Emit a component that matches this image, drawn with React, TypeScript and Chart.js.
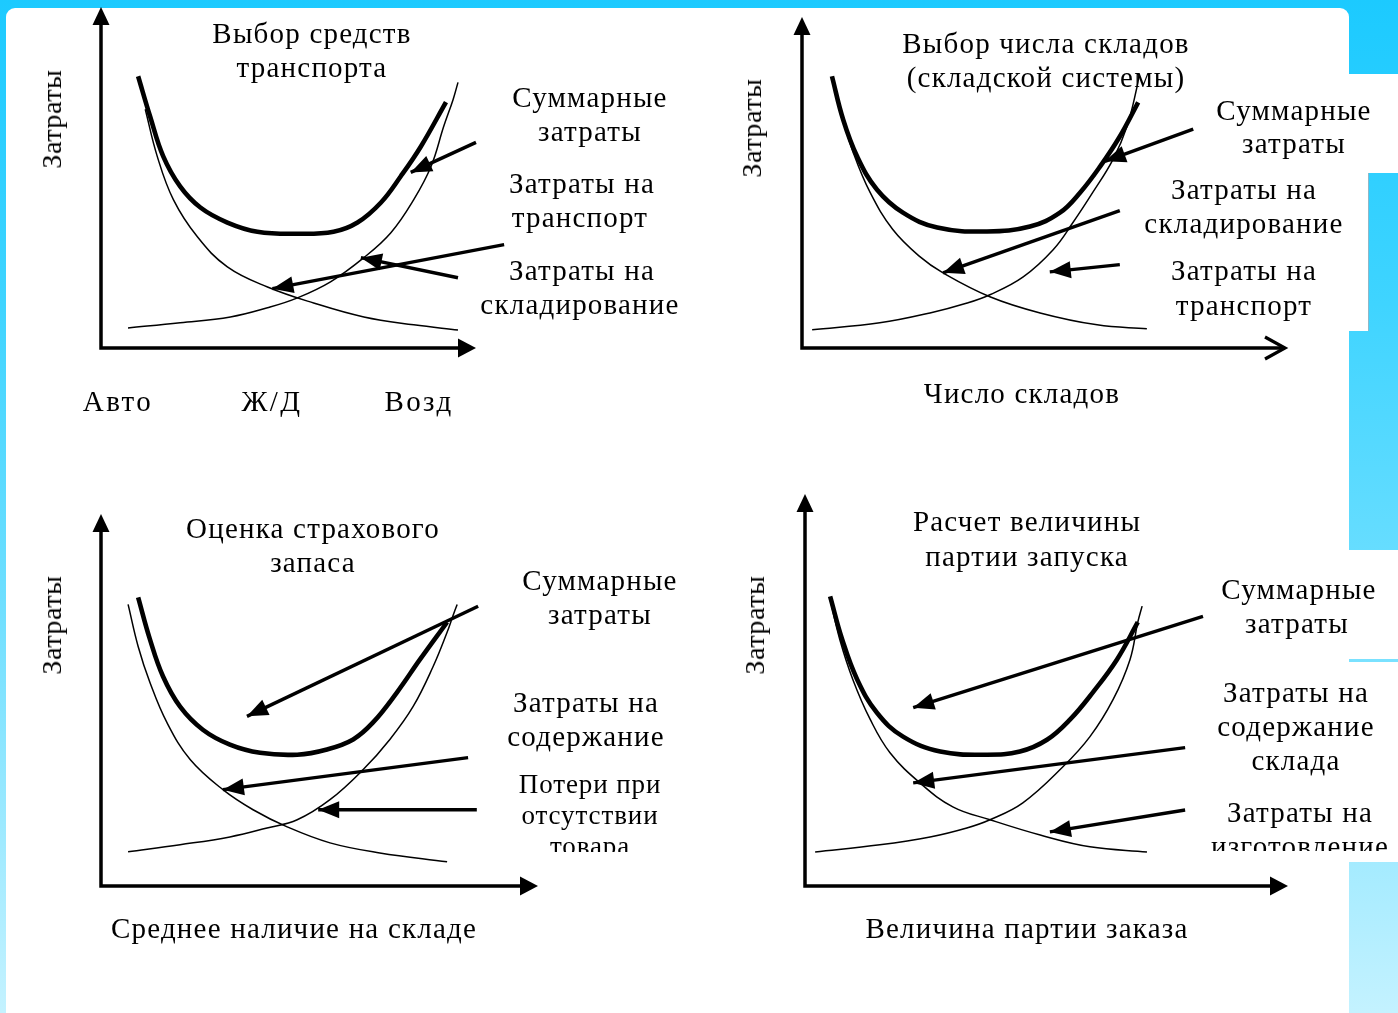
import React, { useEffect, useRef } from "react";
import { Chart, registerables } from "chart.js";

Chart.register(...registerables);

// ---------- DATA (x: 0..100 along the horizontal axis, y: 0..100 along the cost axis) ----------
// Panel 1: Выбор средств транспорта
const P1_TOTAL_X = [9.9, 13.1, 16.6, 21.1, 26.5, 33.7, 41.7, 52.4, 62.0, 68.4, 74.6, 79.9, 85.3, 92.0];
const P1_TOTAL_Y = [79.7, 67.9, 56.2, 47.4, 41.2, 36.8, 34.1, 33.5, 34.1, 36.8, 42.6, 50.3, 59.1, 72.1];
const P1_DOWN_X = [11.8, 15.0, 19.3, 25.7, 33.7, 44.4, 56.7, 70.1, 83.4, 95.2];
const P1_DOWN_Y = [70.0, 56.2, 43.5, 32.6, 23.8, 17.9, 13.2, 9.1, 6.8, 5.3];
const P1_UP_X = [7.2, 21.1, 34.5, 44.4, 52.4, 61.2, 70.1, 77.3, 83.4, 88.0, 91.4, 93.9, 95.2];
const P1_UP_Y = [5.9, 7.4, 9.1, 11.8, 14.7, 19.4, 26.5, 33.8, 43.5, 53.2, 65.0, 72.9, 77.9];
// arrows: [headX, headY, tailX, tailY]
const P1_ARROWS = [
  [82.6, 51.5, 100.0, 60.3],
  [45.7, 17.4, 107.5, 30.3],
  [69.3, 26.5, 95.2, 20.6],
];
const P1_TICKS = ["Авто", "Ж/Д", "Возд"];

// Panel 2: Выбор числа складов
const P2_TOTAL_X = [6.2, 8.5, 11.4, 15.5, 20.9, 28.0, 38.3, 47.2, 53.4, 57.6, 61.7, 65.8, 69.6];
const P2_TOTAL_Y = [82.1, 69.1, 57.9, 47.9, 40.9, 36.4, 35.2, 36.7, 40.9, 47.0, 54.8, 63.9, 74.2];
const P2_DOWN_X = [6.4, 8.3, 10.6, 14.1, 18.8, 24.4, 29.2, 38.9, 49.3, 61.1, 71.4];
const P2_DOWN_Y = [80.3, 70.0, 59.1, 47.0, 35.8, 27.6, 22.7, 15.5, 10.6, 7.0, 5.8];
const P2_UP_X = [2.1, 16.1, 26.5, 34.2, 38.9, 45.8, 52.0, 56.1, 60.2, 64.4, 67.3, 69.4, 69.8];
const P2_UP_Y = [5.5, 7.6, 10.6, 13.6, 16.1, 21.5, 29.7, 37.9, 47.0, 57.0, 67.0, 79.1, 82.7];
const P2_ARROWS = [
  [62.7, 56.4, 81.0, 66.1],
  [29.2, 22.7, 65.8, 41.5],
  [51.3, 23.0, 65.8, 25.2],
];

// Panel 3: Оценка страхового запаса
const P3_TOTAL_X = [8.5, 11.2, 14.2, 18.1, 23.3, 29.5, 36.4, 44.9, 51.7, 57.7, 62.2, 67.7, 73.0, 79.2];
const P3_TOTAL_Y = [77.6, 66.3, 56.3, 48.2, 42.0, 38.0, 35.8, 35.3, 36.7, 39.4, 43.9, 52.0, 60.9, 70.9];
const P3_DOWN_X = [6.2, 8.5, 11.2, 15.1, 20.4, 27.9, 34.8, 42.6, 52.4, 63.8, 79.2];
const P3_DOWN_Y = [75.7, 64.4, 54.7, 43.9, 34.0, 25.9, 20.5, 15.9, 11.6, 8.9, 6.5];
const P3_UP_X = [6.2, 18.1, 29.5, 38.0, 44.9, 52.4, 60.0, 66.1, 71.4, 76.0, 79.2, 80.5, 81.5];
const P3_UP_Y = [9.2, 11.1, 13.2, 15.6, 17.8, 23.2, 31.3, 39.4, 48.2, 59.0, 68.2, 72.5, 75.7];
const P3_ARROWS = [
  [33.4, 45.6, 86.3, 75.2],
  [27.9, 25.9, 84.0, 34.5],
  [49.7, 20.5, 86.0, 20.5],
];

// Panel 4: Расчет величины партии запуска
const P4_TOTAL_X = [5.2, 7.7, 10.8, 14.9, 20.3, 28.0, 37.7, 44.5, 50.1, 54.9, 59.6, 64.6, 68.9];
const P4_TOTAL_Y = [73.9, 62.9, 52.7, 44.2, 38.1, 34.3, 33.5, 34.3, 37.3, 42.5, 49.4, 57.8, 67.3];
const P4_DOWN_X = [5.2, 7.2, 9.9, 13.5, 17.6, 23.8, 30.6, 38.3, 48.7, 59.0, 70.8];
const P4_DOWN_Y = [73.1, 62.9, 52.7, 42.5, 34.0, 26.3, 20.2, 16.9, 13.0, 10.0, 8.7];
const P4_UP_X = [2.1, 15.5, 25.9, 33.5, 38.3, 45.1, 53.4, 59.0, 63.8, 67.3, 68.9, 69.8];
const P4_UP_Y = [8.7, 10.5, 12.5, 14.8, 16.9, 21.2, 30.4, 38.1, 47.6, 57.8, 67.3, 71.4];
const P4_ARROWS = [
  [22.4, 45.5, 82.4, 68.8],
  [22.4, 26.3, 78.7, 35.3],
  [50.7, 13.8, 78.7, 19.4],
];

// ---------- LAYOUT ----------
const W = 1398;
const H = 1013;
const FONT = '"Liberation Serif", "Times New Roman", serif';

type Box = { x: number; y: number; w: number; h: number };
type Axes = { x0: number; x1: number; y0: number; y1: number };

const axesPlugin = {
  id: "sketchAxes",
  afterDatasetsDraw(chart: any, _args: any, opts: any) {
    const { ctx, chartArea } = chart;
    const { left, right, top, bottom } = chartArea;
    ctx.save();
    ctx.strokeStyle = "#000";
    ctx.fillStyle = "#000";
    ctx.lineWidth = 3.5;
    ctx.lineCap = "square";
    const hl = 18;
    const hw = 8.5;
    ctx.beginPath();
    ctx.moveTo(left, top + hl - 2);
    ctx.lineTo(left, bottom);
    ctx.lineTo(opts.open ? right - 2 : right - hl + 2, bottom);
    ctx.stroke();
    ctx.beginPath();
    ctx.moveTo(left, top);
    ctx.lineTo(left - hw, top + hl);
    ctx.lineTo(left + hw, top + hl);
    ctx.closePath();
    ctx.fill();
    if (opts.open) {
      ctx.lineCap = "butt";
      ctx.lineJoin = "miter";
      ctx.lineWidth = 3.2;
      ctx.beginPath();
      ctx.moveTo(right - 20, bottom - 11);
      ctx.lineTo(right, bottom);
      ctx.lineTo(right - 20, bottom + 11);
      ctx.stroke();
    } else {
      ctx.beginPath();
      ctx.moveTo(right, bottom);
      ctx.lineTo(right - hl, bottom - 9.5);
      ctx.lineTo(right - hl, bottom + 9.5);
      ctx.closePath();
      ctx.fill();
    }
    ctx.restore();
  },
};

const arrowPlugin = {
  id: "sketchArrows",
  afterDatasetsDraw(chart: any) {
    const { ctx } = chart;
    ctx.save();
    ctx.fillStyle = "#000";
    chart.data.datasets.forEach((ds: any, i: number) => {
      if (!ds.arrowHead) return;
      const meta = chart.getDatasetMeta(i);
      const head = meta.data[0];
      const tail = meta.data[1];
      if (!head || !tail) return;
      const ang = Math.atan2(head.y - tail.y, head.x - tail.x);
      const L = 21;
      const Wd = 8.5;
      const bx = head.x - Math.cos(ang) * L;
      const by = head.y - Math.sin(ang) * L;
      const nx = -Math.sin(ang) * Wd;
      const ny = Math.cos(ang) * Wd;
      ctx.beginPath();
      ctx.moveTo(head.x, head.y);
      ctx.lineTo(bx + nx, by + ny);
      ctx.lineTo(bx - nx, by - ny);
      ctx.closePath();
      ctx.fill();
    });
    ctx.restore();
  },
};

function curve(xs: number[], ys: number[], width: number) {
  return {
    data: xs.map((x, i) => ({ x, y: ys[i] })),
    borderColor: "#000",
    backgroundColor: "#000",
    borderWidth: width,
    pointRadius: 0,
    showLine: true,
    fill: false,
    tension: 0.4,
    clip: false,
  };
}

function arrows(list: number[][]) {
  return list.map((a) => ({
    data: [
      { x: a[0], y: a[1] },
      { x: a[2], y: a[3] },
    ],
    borderColor: "#000",
    borderWidth: 3.4,
    pointRadius: 0,
    showLine: true,
    tension: 0,
    fill: false,
    clip: false,
    arrowHead: true,
  }));
}

function Panel({ box, axes, datasets, open }: { box: Box; axes: Axes; datasets: any[]; open?: boolean }) {
  const ref = useRef<HTMLCanvasElement>(null);
  useEffect(() => {
    if (!ref.current) return;
    const chart = new Chart(ref.current, {
      type: "scatter",
      data: { datasets },
      options: {
        responsive: false,
        animation: false,
        events: [],
        layout: {
          padding: {
            left: axes.x0 - box.x,
            right: box.x + box.w - axes.x1,
            top: axes.y1 - box.y,
            bottom: box.y + box.h - axes.y0,
          },
        },
        scales: {
          x: { type: "linear", min: 0, max: 100, display: false },
          y: { type: "linear", min: 0, max: 100, display: false },
        },
        plugins: {
          legend: { display: false },
          tooltip: { enabled: false },
          sketchAxes: { open: !!open },
        } as any,
      },
      plugins: [axesPlugin, arrowPlugin],
    } as any);
    return () => chart.destroy();
  }, []);
  return (
    <canvas
      ref={ref}
      width={box.w}
      height={box.h}
      style={{ position: "absolute", left: box.x, top: box.y, width: box.w, height: box.h }}
    />
  );
}

function T({ x, y, children, size = 29, rot = false, ls = 1.2 }: any) {
  return (
    <div
      style={{
        position: "absolute",
        left: x,
        top: y,
        transform: `translate(-50%, -50%)${rot ? " rotate(-90deg)" : ""}`,
        fontFamily: FONT,
        fontSize: size,
        lineHeight: 1,
        whiteSpace: "nowrap",
        color: "#000",
        letterSpacing: ls,
      }}
    >
      {children}
    </div>
  );
}

function Clip({ top, bottom, children }: any) {
  return (
    <div style={{ position: "absolute", left: 0, top, width: W, height: bottom - top, overflow: "hidden" }}>
      <div style={{ position: "absolute", left: 0, top: -top, width: W, height: H }}>{children}</div>
    </div>
  );
}

export default function App() {
  const p1 = [
    curve(P1_TOTAL_X, P1_TOTAL_Y, 4.6),
    curve(P1_DOWN_X, P1_DOWN_Y, 1.5),
    curve(P1_UP_X, P1_UP_Y, 1.5),
    ...arrows(P1_ARROWS),
  ];
  const p2 = [
    curve(P2_TOTAL_X, P2_TOTAL_Y, 4.6),
    curve(P2_DOWN_X, P2_DOWN_Y, 1.5),
    curve(P2_UP_X, P2_UP_Y, 1.5),
    ...arrows(P2_ARROWS),
  ];
  const p3 = [
    curve(P3_TOTAL_X, P3_TOTAL_Y, 4.6),
    curve(P3_DOWN_X, P3_DOWN_Y, 1.5),
    curve(P3_UP_X, P3_UP_Y, 1.5),
    ...arrows(P3_ARROWS),
  ];
  const p4 = [
    curve(P4_TOTAL_X, P4_TOTAL_Y, 4.6),
    curve(P4_DOWN_X, P4_DOWN_Y, 1.5),
    curve(P4_UP_X, P4_UP_Y, 1.5),
    ...arrows(P4_ARROWS),
  ];
  const white = "#ffffff";
  return (
    <div
      style={{
        position: "absolute",
        left: 0,
        top: 0,
        width: W,
        height: H,
        overflow: "hidden",
        background: "linear-gradient(to bottom, #1ccaff 0%, #3fd4ff 30%, #6fdfff 60%, #c4f2ff 100%)",
      }}
    >
      {/* white sheet */}
      <div style={{ position: "absolute", left: 6, top: 8, width: 1343, height: H, background: white, borderRadius: "9px 9px 0 0" }} />
      <div style={{ position: "absolute", left: 1349, top: 74, width: 49, height: 99, background: white }} />
      <div style={{ position: "absolute", left: 1349, top: 173, width: 19, height: 158, background: white, borderRight: "1px solid #8fb8c8" }} />
      <div style={{ position: "absolute", left: 1349, top: 550, width: 49, height: 109, background: white }} />
      <div style={{ position: "absolute", left: 1349, top: 662, width: 49, height: 200, background: white }} />

      <Panel box={{ x: 0, y: 0, w: 699, h: 470 }} axes={{ x0: 101, x1: 476, y0: 348, y1: 7 }} datasets={p1} />
      <Panel box={{ x: 699, y: 0, w: 699, h: 470 }} axes={{ x0: 802, x1: 1285, y0: 348, y1: 17 }} datasets={p2} open />
      <Panel box={{ x: 0, y: 470, w: 699, h: 543 }} axes={{ x0: 101, x1: 538, y0: 886, y1: 514 }} datasets={p3} />
      <Panel box={{ x: 699, y: 470, w: 699, h: 543 }} axes={{ x0: 805, x1: 1288, y0: 886, y1: 494 }} datasets={p4} />

      {/* Panel 1 texts */}
      <T x={312} y={33}>Выбор средств</T>
      <T x={312} y={67}>транспорта</T>
      <T x={52} y={119} rot size={28} ls={0.6}>Затраты</T>
      <T x={590} y={97}>Суммарные</T>
      <T x={590} y={131}>затраты</T>
      <T x={582} y={183}>Затраты на</T>
      <T x={580} y={217}>транспорт</T>
      <T x={582} y={270}>Затраты на</T>
      <T x={580} y={304}>складирование</T>
      <T x={118} y={401} ls={2.4}>{P1_TICKS[0]}</T>
      <T x={272} y={401} ls={2.4}>{P1_TICKS[1]}</T>
      <T x={419} y={401} ls={2.4}>{P1_TICKS[2]}</T>

      {/* Panel 2 texts */}
      <T x={1046} y={43}>Выбор числа складов</T>
      <T x={1046} y={77}>(складской системы)</T>
      <T x={752} y={128} rot size={28} ls={0.6}>Затраты</T>
      <T x={1294} y={110}>Суммарные</T>
      <T x={1294} y={143}>затраты</T>
      <T x={1244} y={189}>Затраты на</T>
      <T x={1244} y={223}>складирование</T>
      <T x={1244} y={270}>Затраты на</T>
      <T x={1244} y={305}>транспорт</T>
      <T x={1022} y={393}>Число складов</T>

      {/* Panel 3 texts */}
      <T x={313} y={528}>Оценка страхового</T>
      <T x={313} y={562}>запаса</T>
      <T x={52} y={625} rot size={28} ls={0.6}>Затраты</T>
      <T x={600} y={580}>Суммарные</T>
      <T x={600} y={614}>затраты</T>
      <T x={586} y={702}>Затраты на</T>
      <T x={586} y={736}>содержание</T>
      <Clip top={760} bottom={852}>
        <T x={590} y={784} size={27} ls={0.9}>Потери при</T>
        <T x={590} y={815} size={27} ls={0.9}>отсутствии</T>
        <T x={590} y={846} size={27} ls={0.9}>товара</T>
      </Clip>
      <T x={294} y={928}>Среднее наличие на складе</T>

      {/* Panel 4 texts */}
      <T x={1027} y={521}>Расчет величины</T>
      <T x={1027} y={556}>партии запуска</T>
      <T x={755} y={625} rot size={28} ls={0.6}>Затраты</T>
      <T x={1299} y={589}>Суммарные</T>
      <T x={1297} y={623}>затраты</T>
      <T x={1296} y={692}>Затраты на</T>
      <T x={1296} y={726}>содержание</T>
      <T x={1296} y={760}>склада</T>
      <Clip top={790} bottom={851}>
        <T x={1300} y={812}>Затраты на</T>
        <T x={1300} y={846}>изготовление</T>
      </Clip>
      <T x={1027} y={928}>Величина партии заказа</T>
    </div>
  );
}
